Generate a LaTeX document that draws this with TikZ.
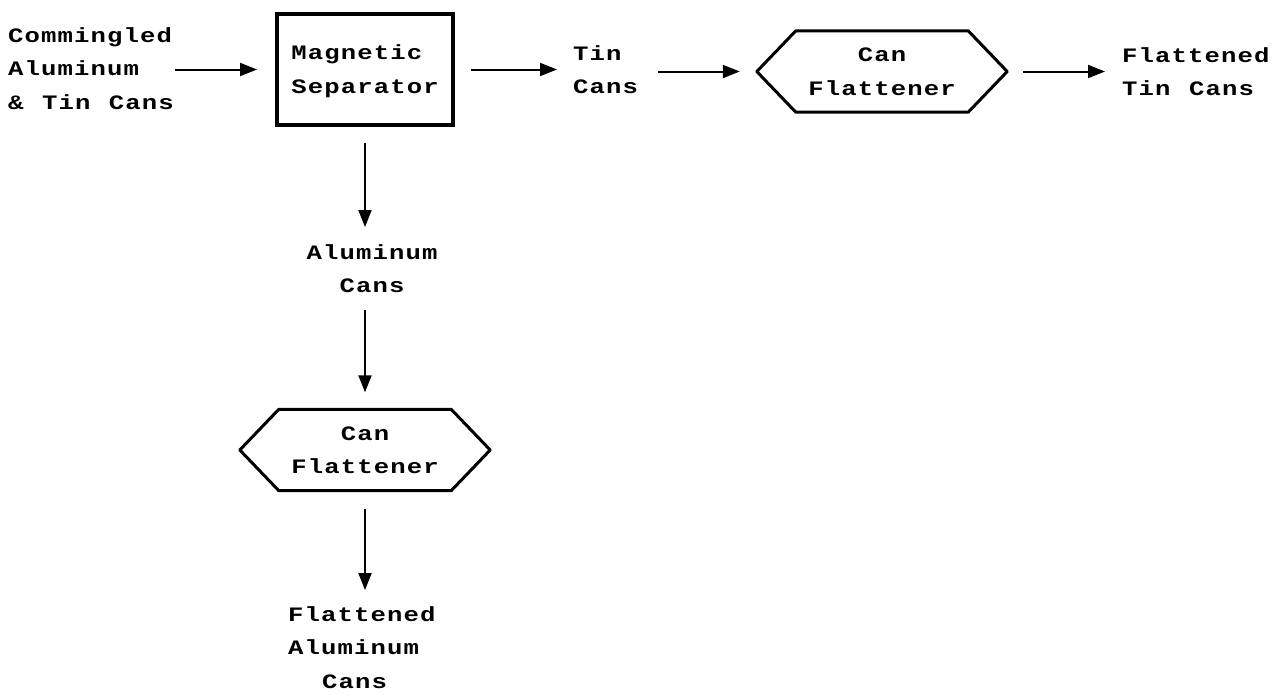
\documentclass[tikz,border=0pt]{standalone}
\usepackage{fontspec}
\newfontfamily\diagmono[FakeStretch=1.25,LetterSpace=5.5,WordSpace=1.12]{Liberation Mono}
\usetikzlibrary{arrows.meta,calc}
\newcommand\monoind{\hspace*{34pt}}
\begin{document}
\begin{tikzpicture}[x=1pt,y=-1pt,
  lbl/.style={inner sep=0pt, align=left, text height=47.5pt, text depth=0pt,
    font={\diagmono\bfseries\fontsize{20.5}{33.5}\selectfont}},
  lbl3/.style={lbl, text height=81pt},
  clbl/.style={lbl, align=center},
  sepbox/.style={lbl, draw, line width=4pt, minimum width=176pt, minimum height=111pt},
  hexnode/.style={clbl, minimum width=250pt, minimum height=81pt},
  hexline/.style={line width=3pt, line join=round},
  arr/.style={line width=2pt, -{Triangle[length=17pt,width=13pt]}}
]
\useasboundingbox (0,0) rectangle (1285,694);
\fill[white] (0,0) rectangle (1285,694);

\node[lbl3, anchor=north west] (in) at (8,28) {Commingled\\Aluminum\\\& Tin Cans};
\node[sepbox] (sep) at (365,69.5) {Magnetic\\Separator};
\node[lbl, anchor=north west] (tin) at (573,46) {Tin\\Cans};
\node[hexnode] (h1) at (882,71.5) {Can\\Flattener};
\node[lbl, anchor=north west] (out) at (1122,48) {Flattened\\Tin Cans};
\node[clbl, anchor=north] (alum) at (372,245) {Aluminum\\Cans};
\node[hexnode] (h2) at (365,450) {Can\\Flattener};
\node[lbl3, anchor=north west] (outal) at (288,607) {Flattened\\Aluminum\\\monoind Cans};

\foreach \h in {h1,h2}{
  \draw[hexline] (\h.west) -- ($(\h.north west)+(39,0)$) -- ($(\h.north east)+(-39,0)$)
    -- (\h.east) -- ($(\h.south east)+(-39,0)$) -- ($(\h.south west)+(39,0)$) -- cycle;
}

\draw[arr, shorten <=1pt, shorten >=18pt] (in.east |- sep.west) -- (sep.west);
\draw[arr, shorten <=16pt, shorten >=16pt] (sep.east) -- (sep.east -| tin.west);
\draw[arr, shorten <=20pt, shorten >=17pt] (tin.east |- h1.west) -- (h1.west);
\draw[arr, shorten <=16pt, shorten >=17pt] (h1.east) -- (h1.east -| out.west);
\draw[arr, shorten <=16pt, shorten >=18pt] (sep.south) -- (sep.south |- alum.north);
\draw[arr, shorten <=17pt, shorten >=17pt] (sep.south |- alum.south) -- (h2.north);
\draw[arr, shorten <=18pt, shorten >=17pt] (h2.south) -- (h2.south |- outal.north);
\end{tikzpicture}
\end{document}
